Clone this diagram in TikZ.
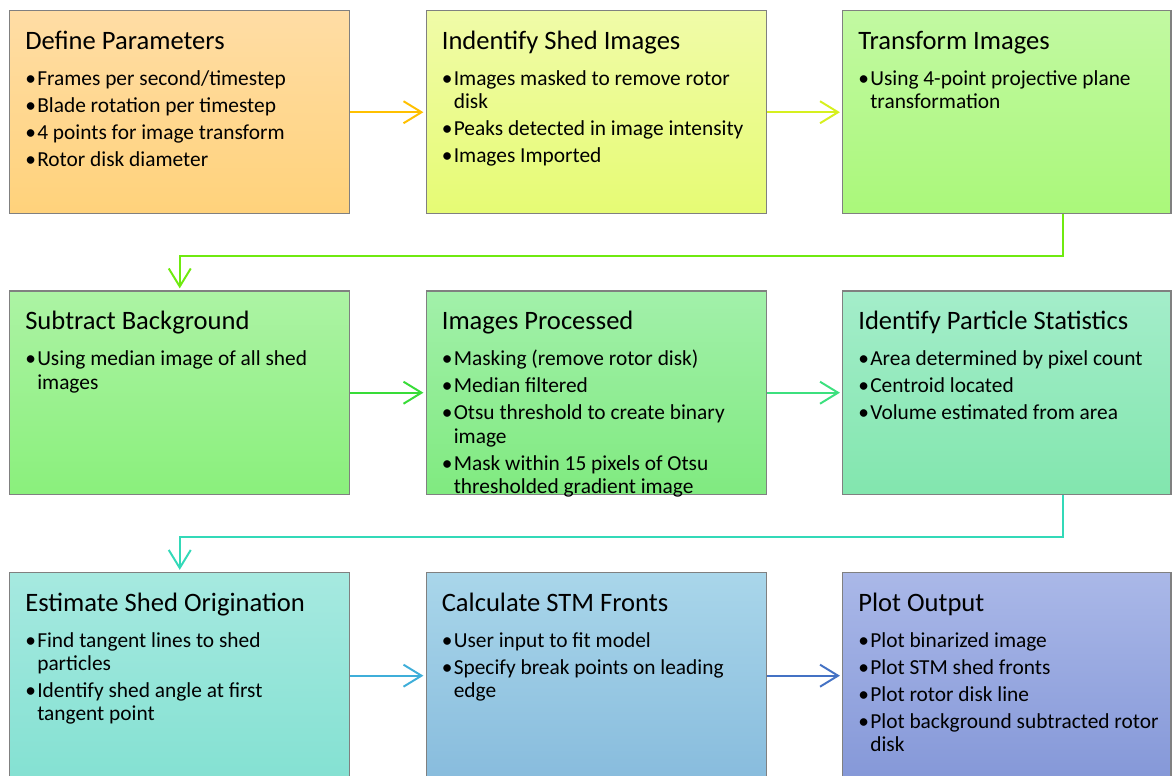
\documentclass[tikz,border=0pt]{standalone}
\usepackage{fontspec}
\setmainfont{Carlito}
\usepackage{xcolor}
\usepackage{tikz}
\usetikzlibrary{arrows.meta, positioning, calc}

\definecolor{boxgray}{HTML}{808080}
\definecolor{arrA}{HTML}{FFC000}
\definecolor{arrB}{HTML}{D6F01E}
\definecolor{elbA}{HTML}{6FEA10}
\definecolor{arrC}{HTML}{38DC38}
\definecolor{arrD}{HTML}{3CE07E}
\definecolor{elbB}{HTML}{33D9B8}
\definecolor{arrE}{HTML}{3FAED9}
\definecolor{arrF}{HTML}{4472C4}

% bullet item and stage text block
\newcommand{\itm}{\par\hangindent=0.3cm\hangafter=1\noindent\makebox[0.3cm][l]{\textbullet}}
\newcommand{\stagelist}[2]{\vtop{\hsize=8cm\parindent=0pt\parskip=0pt
  \fontsize{18.9pt}{22pt}\selectfont #1\par
  \fontsize{15.2pt}{16.5pt}\selectfont\parskip=2.7pt\vskip 6.4pt #2\par}}

\begin{document}
\begin{tikzpicture}[
    x=0.025cm, y=-0.025cm,
    node distance=1.9cm and 1.875cm,
    stage/.style={rectangle, draw=boxgray, line width=1pt, inner sep=0pt,
                  minimum width=8.5cm, minimum height=5.075cm},
    endstage/.style={stage, minimum width=8.2cm},
    laststage/.style={stage, minimum height=5.15cm},
    stagetext/.style={anchor=base west, inner sep=0pt, text=black},
    flow/.style={line width=1.4pt, shorten >=1.5pt,
                 -{Straight Barb[length=0.45cm, width=0.55cm]}}
]
    \useasboundingbox (0,0) rectangle (1172,776);

    % Row 1
    \node[stage, anchor=north west, top color={rgb,255:red,255;green,221;blue,165},
          bottom color={rgb,255:red,255;green,210;blue,123}] (defpar) at (9,10) {};
    \node[stage, right=of defpar, top color={rgb,255:red,240;green,251;blue,168},
          bottom color={rgb,255:red,230;green,251;blue,116}] (shedimg) {};
    \node[endstage, right=of shedimg, top color={rgb,255:red,194;green,249;blue,162},
          bottom color={rgb,255:red,170;green,248;blue,122}] (transf) {};

    % Row 2
    \node[stage, below=of defpar, top color={rgb,255:red,172;green,243;blue,164},
          bottom color={rgb,255:red,138;green,240;blue,124}] (subbg) {};
    \node[stage, right=of subbg, top color={rgb,255:red,162;green,240;blue,170},
          bottom color={rgb,255:red,128;green,234;blue,128}] (improc) {};
    \node[endstage, right=of improc, top color={rgb,255:red,164;green,237;blue,202},
          bottom color={rgb,255:red,130;green,230;blue,174}] (partstat) {};

    % Row 3
    \node[laststage, below=1.925cm of subbg, top color={rgb,255:red,166;green,233;blue,224},
          bottom color={rgb,255:red,132;green,225;blue,210}] (shedorig) {};
    \node[laststage, right=of shedorig, top color={rgb,255:red,169;green,214;blue,234},
          bottom color={rgb,255:red,136;green,188;blue,221}] (stmfront) {};
    \node[endstage, minimum height=5.15cm, right=of stmfront, top color={rgb,255:red,170;green,184;blue,232},
          bottom color={rgb,255:red,133;green,152;blue,216}] (plotout) {};

    % Texts
    \node[stagetext] (defpartxt) at ([xshift=0.4cm, yshift=-0.9875cm]defpar.north west)
        {\stagelist{Define Parameters}{\itm Frames per second/timestep
         \itm Blade rotation per timestep \itm 4 points for image transform
         \itm Rotor disk diameter}};
    \node[stagetext] (shedimgtxt) at ([xshift=0.4cm, yshift=-0.9875cm]shedimg.north west)
        {\stagelist{Indentify Shed Images}{\itm Images masked to remove rotor\newline disk
         \itm Peaks detected in image intensity \itm Images Imported}};
    \node[stagetext] (transftxt) at ([xshift=0.4cm, yshift=-0.9875cm]transf.north west)
        {\stagelist{Transform Images}{\itm Using 4-point projective plane\newline transformation}};
    \node[stagetext] (subbgtxt) at ([xshift=0.4cm, yshift=-0.9875cm]subbg.north west)
        {\stagelist{Subtract Background}{\itm Using median image of all shed\newline images}};
    \node[stagetext] (improctxt) at ([xshift=0.4cm, yshift=-0.9875cm]improc.north west)
        {\stagelist{Images Processed}{\itm Masking (remove rotor disk)
         \itm Median filtered \itm Otsu threshold to create binary\newline image
         \itm Mask within 15 pixels of Otsu\newline thresholded gradient image}};
    \node[stagetext] (partstattxt) at ([xshift=0.4cm, yshift=-0.9875cm]partstat.north west)
        {\stagelist{Identify Particle Statistics}{\itm Area determined by pixel count
         \itm Centroid located \itm Volume estimated from area}};
    \node[stagetext] (shedorigtxt) at ([xshift=0.4cm, yshift=-0.9875cm]shedorig.north west)
        {\stagelist{Estimate Shed Origination}{\itm Find tangent lines to shed\newline particles
         \itm Identify shed angle at first\newline tangent point}};
    \node[stagetext] (stmfronttxt) at ([xshift=0.4cm, yshift=-0.9875cm]stmfront.north west)
        {\stagelist{Calculate STM Fronts}{\itm User input to fit model
         \itm Specify break points on leading\newline edge}};
    \node[stagetext] (plotouttxt) at ([xshift=0.4cm, yshift=-0.9875cm]plotout.north west)
        {\stagelist{Plot Output}{\itm Plot binarized image \itm Plot STM shed fronts
         \itm Plot rotor disk line \itm Plot background subtracted rotor\newline disk}};

    % Connectors
    \draw[flow, arrA] (defpar) -- (shedimg);
    \draw[flow, arrB] (shedimg) -- (transf);
    \draw[flow, elbA] ([xshift=5.525cm]transf.south west) -- ++(0,42) -| (subbg.north);
    \draw[flow, arrC] (subbg) -- (improc);
    \draw[flow, arrD] (improc) -- (partstat);
    \draw[flow, elbB] ([xshift=5.525cm]partstat.south west) -- ++(0,42) -| (shedorig.north);
    \draw[flow, arrE] (shedorig) -- (stmfront);
    \draw[flow, arrF] (stmfront) -- (plotout);
\end{tikzpicture}
\end{document}
